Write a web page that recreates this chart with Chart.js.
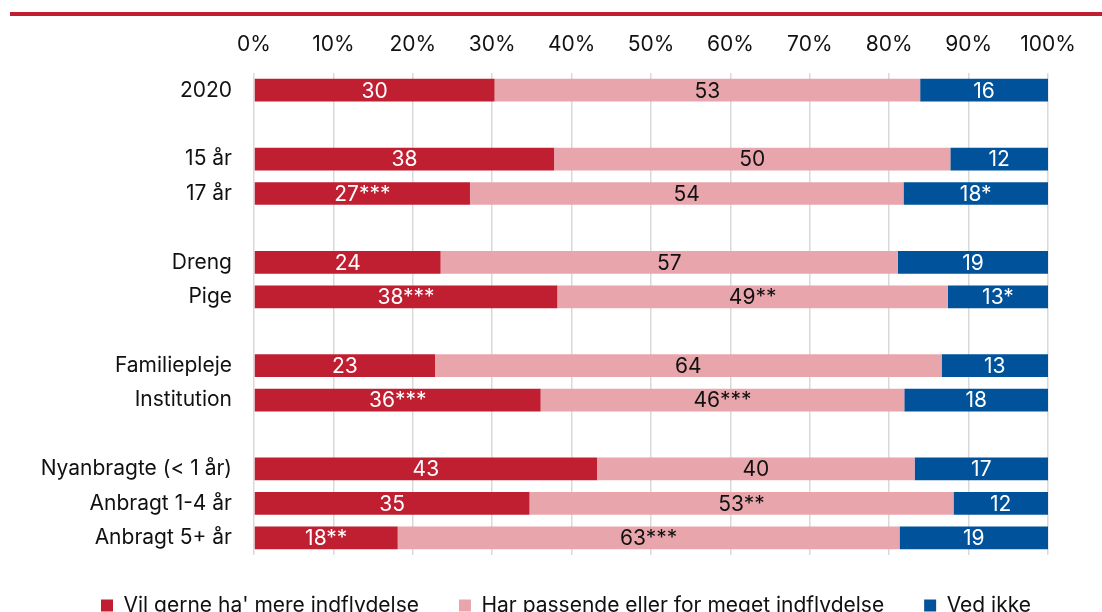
<!DOCTYPE html>
<html>
  <head>
    <title>Indflydelse</title>
    <script src="https://cdn.jsdelivr.net/npm/chart.js"></script>
    <style>
      html, body { margin: 0; padding: 0; background: #fff; overflow: hidden; }
      #streg { position: absolute; left: 10px; right: 0; top: 12px; height: 4px; background: #c01f32; }
      #boks { position: absolute; left: 0; top: 0; width: 1102px; height: 626px; }
    </style>
  </head>

  <body>
    <div id="streg"></div>
    <div id="boks">
      <canvas id="graf"></canvas>
    </div>

    <script>
      // kategorier (tomme strenge = mellemrum mellem grupperne)
      var kategorier = ["2020", "", "15 år", "17 år", "", "Dreng", "Pige", "",
        "Familiepleje", "Institution", "", "Nyanbragte (< 1 år)", "Anbragt 1-4 år", "Anbragt 5+ år"];

      // søjlelængder (pct.)
      var mereIndflydelse = [30.3, null, 37.8, 27.2, null, 23.5, 38.2, null, 22.8, 36.1, null, 43.2, 34.7, 18.1];
      var passende = [53.6, null, 49.9, 54.6, null, 57.6, 49.2, null, 63.8, 45.8, null, 40.0, 53.4, 63.2];
      var vedIkke = [16.1, null, 12.3, 18.2, null, 18.9, 12.6, null, 13.4, 18.1, null, 16.8, 11.9, 18.7];

      // tekster i søjlerne
      var tekstMere = ["30", "", "38", "27***", "", "24", "38***", "", "23", "36***", "", "43", "35", "18**"];
      var tekstPassende = ["53", "", "50", "54", "", "57", "49**", "", "64", "46***", "", "40", "53**", "63***"];
      var tekstVedIkke = ["16", "", "12", "18*", "", "19", "13*", "", "13", "18", "", "17", "12", "19"];

      var aksetekster = ["0%", "10%", "20%", "30%", "40%", "50%", "60%", "70%", "80%", "90%", "100%"];

      var FONT = "Inter";
      var STR = 21;

      var soejleTekster = {
        id: "soejleTekster",
        afterLayout(chart) {
          // forklaringen sidder lidt til højre i originalen
          chart.legend.left += 42;
          chart.legend.right += 42;
        },
        afterDatasetsDraw(chart) {
          var ctx = chart.ctx;
          var tekster = [tekstMere, tekstPassende, tekstVedIkke];
          var farver = ["#ffffff", "#111111", "#ffffff"];
          ctx.save();
          ctx.font = STR + "px " + FONT;
          ctx.textAlign = "center";
          ctx.textBaseline = "middle";
          chart.data.datasets.forEach((ds, i) => {
            var meta = chart.getDatasetMeta(i);
            meta.data.forEach((el, j) => {
              if (ds.data[j] == null) return;
              var p = el.getCenterPoint();
              ctx.fillStyle = farver[i];
              ctx.fillText(tekster[i][j], p.x, p.y + 1);
            });
          });
          ctx.restore();
        },
      };

      var graf = new Chart(document.getElementById("graf").getContext("2d"), {
        type: "bar",
        data: {
          labels: kategorier,
          datasets: [
            {
              label: "Vil gerne ha' mere indflydelse",
              data: mereIndflydelse,
              backgroundColor: "#c01f32",
            },
            {
              label: "Har passende eller for meget indflydelse",
              data: passende,
              backgroundColor: "#e8a6ac",
            },
            {
              label: "Ved ikke",
              data: vedIkke,
              backgroundColor: "#00529b",
            },
          ],
        },
        options: {
          indexAxis: "y",
          responsive: true,
          maintainAspectRatio: false,
          animation: false,
          barPercentage: 0.66,
          categoryPercentage: 1,
          layout: { padding: { left: 0, right: 54, top: 0, bottom: 0 } },
          scales: {
            x: {
              position: "top",
              stacked: true,
              min: 0,
              max: 100,
              afterFit: (s) => { s.height = 73; },
              border: { display: false },
              grid: { color: "#d9d9d9", lineWidth: 1.5, drawTicks: false },
              ticks: {
                stepSize: 10,
                padding: 16,
                color: "#111",
                font: { family: FONT, size: STR },
                callback: (v) => aksetekster[v / 10],
              },
            },
            y: {
              stacked: true,
              afterFit: (s) => { s.width = 254; },
              border: { display: false },
              grid: { display: false, drawTicks: false },
              ticks: {
                padding: 22,
                color: "#111",
                font: { family: FONT, size: STR },
                autoSkip: false,
              },
            },
          },
          plugins: {
            tooltip: { enabled: false },
            legend: {
              position: "bottom",
              labels: {
                boxWidth: 12,
                boxHeight: 12,
                padding: 40,
                color: "#111",
                font: { family: FONT, size: STR },
              },
            },
          },
        },
        plugins: [soejleTekster],
      });
    </script>
  </body>
</html>
